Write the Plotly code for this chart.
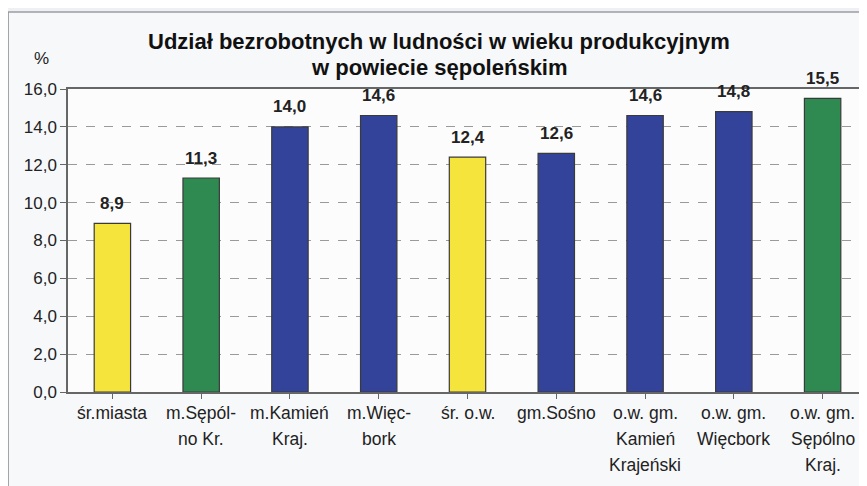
import plotly.graph_objects as go

categories = ["śr.miasta", "m.Sępól-<br>no Kr.", "m.Kamień<br>Kraj.", "m.Więc-<br>bork",
              "śr. o.w.", "gm.Sośno", "o.w. gm.<br>Kamień<br>Krajeński",
              "o.w. gm.<br>Więcbork", "o.w. gm.<br>Sępólno<br>Kraj."]
values = [8.9, 11.3, 14.0, 14.6, 12.4, 12.6, 14.6, 14.8, 15.5]
bar_colors = ["#F5E43C", "#2F8A52", "#34439A", "#34439A", "#F5E43C",
              "#34439A", "#34439A", "#34439A", "#2F8A52"]
y_ticks = [0, 2, 4, 6, 8, 10, 12, 14, 16]

W, H = 867, 486
OFF = 8  # page body margin
# plot area in page pixels
PL, PR, PT, PB = 68, 869, 89, 392
L, T = PL - OFF, PT - OFF
R = W - (PR - OFF)
B = H - (PB - OFF)
pw, ph = (PR - PL), (PB - PT)

def px(x):
    return (x - PL) / pw

def py(y):
    return (PB - y) / ph

FONT = "Liberation Sans, Arial"

fig = go.Figure()
fig.add_trace(go.Bar(
    x=list(range(len(categories))), y=values,
    marker=dict(color=bar_colors, line=dict(color="#3a3a3a", width=1.2)),
    width=0.41,
))

annotations = []
for i, v in enumerate(values):
    annotations.append(dict(
        x=i, y=v, xref="x", yref="y", text="<b>" + f"{v:.1f}".replace(".", ",") + "</b>",
        showarrow=False, xanchor="center", yanchor="middle", yshift=20,
        font=dict(family=FONT, size=17, color="#222222")))

for i, lab in enumerate(categories):
    for j, line in enumerate(lab.split("<br>")):
        annotations.append(dict(
            x=i, y=0, xref="x", yref="y", text=line, showarrow=False,
            xanchor="center", yanchor="middle", yshift=-21 - 26 * j,
            font=dict(family=FONT, size=17.5, color="#222222")))

annotations += [
    dict(x=px(440), y=py(41), xref="paper", yref="paper", showarrow=False,
         xanchor="center", yanchor="middle",
         text="<b>Udział bezrobotnych w ludności w wieku produkcyjnym</b>",
         font=dict(family=FONT, size=22, color="#111111")),
    dict(x=px(440), y=py(67), xref="paper", yref="paper", showarrow=False,
         xanchor="center", yanchor="middle",
         text="<b>w powiecie sępoleńskim</b>",
         font=dict(family=FONT, size=22, color="#111111")),
    dict(x=px(41), y=py(59), xref="paper", yref="paper", showarrow=False,
         xanchor="center", yanchor="middle",
         text="%", font=dict(family=FONT, size=17, color="#222222")),
]

fig.update_layout(
    width=W, height=H,
    margin=dict(l=L, r=R, t=T, b=B, pad=0),
    paper_bgcolor="#eef0f3",
    plot_bgcolor="#f8f9fa",
    separators=", ",
    showlegend=False,
    annotations=annotations,
    shapes=[dict(type="rect", xref="paper", yref="paper",
                 x0=px(8), x1=1.05, y0=-0.5, y1=py(12),
                 line=dict(color="#9a9ca3", width=1.5), fillcolor="rgba(255,255,255,0.55)",
                 layer="below")],
)
fig.update_xaxes(
    range=[-0.5, len(categories) - 0.5], tickmode="array",
    tickvals=list(range(len(categories))), showticklabels=False,
    tickson="boundaries", ticks="outside", ticklen=5, tickcolor="#666666",
    showline=True, linecolor="#666666", linewidth=1.5, mirror=True,
    showgrid=False, zeroline=False,
)
fig.update_yaxes(
    range=[0, 16], tickmode="array", tickvals=y_ticks, tickformat=".1f",
    ticks="outside", ticklen=6, tickcolor="#666666",
    tickfont=dict(family=FONT, size=17, color="#222222"),
    showline=True, linecolor="#666666", linewidth=1.5, mirror=True,
    showgrid=True, gridcolor="#9a9a9a", griddash="dash", gridwidth=1,
    zeroline=False,
)

fig.write_html("out.html")
